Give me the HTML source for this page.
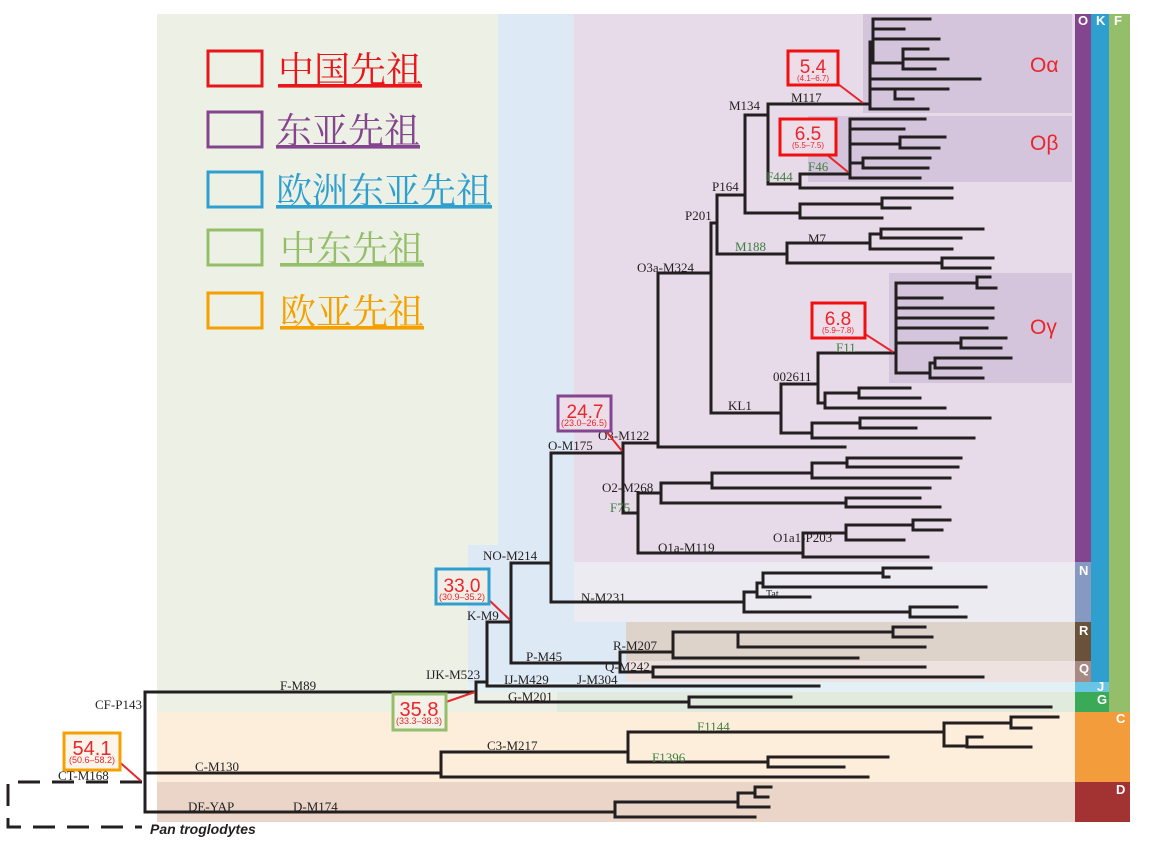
<!DOCTYPE html>
<html><head><meta charset="utf-8"><style>
html,body{margin:0;padding:0;background:#fff;}
svg{display:block}
.l{font-family:"Liberation Serif",serif;font-size:13px;fill:#231f20}
.g{font-family:"Liberation Serif",serif;font-size:13px;fill:#3f7f3f}
.n{font-family:"Liberation Sans",sans-serif;fill:#e8262b;text-anchor:middle}
.b{font-family:"Liberation Sans",sans-serif;font-size:13px;fill:#fff;font-weight:bold}
.lg{font-family:"Liberation Serif","Noto Serif CJK SC",serif;font-size:36px;text-decoration:underline}
</style></head><body>
<svg width="1157" height="844" viewBox="0 0 1157 844" xmlns="http://www.w3.org/2000/svg">
<!-- backgrounds -->
<rect x="157" y="14" width="918" height="698" fill="#edf1e5"/>
<rect x="498" y="14" width="577" height="531" fill="#dde9f4"/>
<rect x="468" y="545" width="607" height="137" fill="#dde9f4"/>
<rect x="574" y="14" width="501" height="548" fill="#e7dbe9"/>
<rect x="863" y="14" width="209" height="99" fill="#d5c5dc"/>
<rect x="808" y="116" width="264" height="66" fill="#d5c5dc"/>
<rect x="889" y="273" width="183" height="110" fill="#d5c5dc"/>
<rect x="574" y="562" width="501" height="60" fill="#ebebf1"/>
<rect x="626" y="622" width="449" height="39" fill="#ddd3ca"/>
<rect x="626" y="661" width="449" height="21" fill="#eee2e0"/>
<rect x="468" y="682" width="607" height="10" fill="#e3f1f7"/>
<rect x="557" y="692" width="518" height="20" fill="#e0ebde"/>
<rect x="157" y="712" width="918" height="70" fill="#fdeedb"/>
<rect x="157" y="782" width="918" height="40" fill="#ead5c8"/>
<!-- right bars -->
<rect x="1075" y="14" width="16" height="548" fill="#83468e"/>
<rect x="1075" y="562" width="16" height="60" fill="#8599c1"/>
<rect x="1075" y="622" width="16" height="39" fill="#6a5139"/>
<rect x="1075" y="661" width="16" height="21" fill="#a88a84"/>
<rect x="1091" y="14" width="18" height="668" fill="#2f9fd0"/>
<rect x="1075" y="682" width="34" height="10" fill="#6ac4e4"/>
<rect x="1075" y="692" width="34" height="20" fill="#3aaa58"/>
<rect x="1109" y="14" width="21" height="698" fill="#95be6b"/>
<rect x="1075" y="712" width="55" height="70" fill="#f39c3c"/>
<rect x="1075" y="782" width="55" height="40" fill="#a33232"/>
<text class="b" x="1078" y="25">O</text><text class="b" x="1096" y="25">K</text><text class="b" x="1114" y="25">F</text>
<text class="b" x="1079" y="575">N</text><text class="b" x="1079" y="635">R</text><text class="b" x="1079" y="673">Q</text>
<text class="b" x="1097" y="691">J</text><text class="b" x="1097" y="704">G</text>
<text class="b" x="1116" y="723">C</text><text class="b" x="1116" y="794">D</text>
<!-- legend -->
<g fill="none" stroke-width="3">
<rect x="208" y="51" width="54" height="35" stroke="#e8161b"/>
<rect x="208" y="112" width="54" height="35" stroke="#83468e"/>
<rect x="208" y="172" width="54" height="35" stroke="#2f9fd0"/>
<rect x="208" y="230" width="54" height="35" stroke="#95be6b"/>
<rect x="208" y="293" width="54" height="35" stroke="#f5a000"/>
</g>
<text class="lg" x="278" y="82" fill="#e8161b">中国先祖</text>
<text class="lg" x="276" y="143" fill="#83468e">东亚先祖</text>
<text class="lg" x="276" y="203" fill="#2f9fd0">欧洲东亚先祖</text>
<text class="lg" x="280" y="261" fill="#95be6b">中东先祖</text>
<text class="lg" x="280" y="324" fill="#f5a000">欧亚先祖</text>
<!-- tree -->
<path fill="none" stroke="#231f20" stroke-width="3" stroke-linecap="square" d="
M873 19V63 M873 19H930 M873 29H904 M873 39H939 M873 63H903 M903 49V69 M903 49H928 M903 59H948 M903 69H935
M870 42V109 M870 79H980 M870 89H895 M895 89V99 M895 89H948 M895 99H913 M870 109H928
M768 104H870 M768 104V184
M768 184H800 M800 174V188 M800 174H848 M800 188H952
M850 119V178 M850 119H925 M850 129H904 M850 144H900 M900 137V148 M900 137H945 M900 148H939
M850 163H863 M863 158V168 M863 158H930 M863 168H928 M850 178H920
M745 115V213 M745 115H768 M745 213H800 M800 204V218 M800 204H882 M882 198V208 M882 198H952 M882 208H910 M800 218H882
M717 195H745 M717 195V254 M711 223H717 M717 254H787
M787 243V263 M787 243H870 M870 234V249 M870 234H881 M881 229V238 M881 229H983 M881 238H961 M870 249H952
M787 263H942 M942 258V268 M942 258H993 M942 268H990
M658 273H711 M711 223V413 M658 273V447
M711 413H781 M781 384V433 M781 384H818 M818 353V403 M818 353H896
M896 283V373 M896 283H977 M977 277V288 M977 277H990 M977 288H996 M896 298H942 M896 308H993 M896 318H993 M896 328H987
M896 343H961 M961 338V348 M961 338H1006 M961 348H1001
M896 373H930 M930 363V378 M930 363H935 M935 358V368 M935 358H1011 M935 368H981 M930 378H983
M818 403H825 M825 393V408 M825 393H859 M859 388V398 M859 388H910 M859 398H920 M825 408H945
M781 433H812 M812 423V438 M812 423H860 M860 418V428 M860 418H990 M860 428H916 M812 438H974
M623 443H658 M658 447H845
M551 453H623 M623 443V513 M623 513H638 M638 493V553
M638 493H661 M661 483V503 M661 483H712 M712 473V488 M712 473H812 M812 463V478 M812 463H847 M847 458V467 M847 458H961 M847 467H958 M812 478H950 M712 488H930
M661 503H846 M846 498V507 M846 498H920 M846 507H940
M638 553H803 M803 533V557 M803 533H846 M846 525V540 M846 525H913 M913 520V530 M913 520H950 M913 530H942 M846 540H904 M803 557H928
M551 453V602 M511 563H551 M511 563V663
M551 602H744 M744 592V612 M744 592H757 M757 583V597 M757 583H763 M763 573V587 M763 573H883 M883 568V577 M883 568H931 M883 577H889 M763 587H986 M757 597H810
M744 612H910 M910 607V617 M910 607H957 M910 617H966
M487 622H511 M487 622V686
M511 663H620 M620 652V672 M620 652H673 M673 632V658 M673 632H738 M738 632V647 M738 632H893 M893 627V637 M893 627H925 M893 637H932 M738 647H925 M673 658H858
M620 672H653 M653 667V677 M653 667H925 M653 677H983
M487 686H819 M476 682H487 M476 682V702 M476 702H689 M689 697V707 M689 697H791 M689 707H1051
M147 692H476 M145 692V812
M145 773H441 M441 752V777 M441 752H628 M441 777H868
M628 732V762 M628 732H944 M944 723V746 M944 723H1011 M1011 717V728 M1011 717H1058 M1011 728H1031 M944 746H967 M967 737V747 M967 737H982 M967 747H1031
M628 762H768 M768 757V767 M768 757H888 M768 767H844
M145 812H615 M615 802V817 M615 802H738 M738 793V807 M738 793H755 M755 787V797 M755 787H771 M755 797H768 M738 807H769 M615 817H755
"/>
<path fill="none" stroke="#231f20" stroke-width="3" stroke-dasharray="22,12" d="M142 782H8V827H142"/>
<text x="150" y="834" style="font-family:'Liberation Sans',sans-serif;font-size:14px;font-weight:bold;font-style:italic" fill="#231f20">Pan troglodytes</text>
<!-- labels -->
<text class="l" x="729" y="110">M134</text><text class="l" x="791" y="102">M117</text>
<text class="g" x="766" y="181">F444</text><text class="g" x="808" y="171">F46</text>
<text class="l" x="712" y="191">P164</text><text class="l" x="685" y="220">P201</text>
<text class="g" x="735" y="251">M188</text><text class="l" x="808" y="243">M7</text>
<text class="l" x="637" y="272">O3a-M324</text><text class="l" x="773" y="381">002611</text>
<text class="l" x="728" y="410">KL1</text><text class="g" x="836" y="352">F11</text>
<text class="l" x="598" y="440">O3-M122</text><text class="l" x="548" y="450">O-M175</text>
<text class="l" x="602" y="492">O2-M268</text><text class="g" x="610" y="512">F75</text>
<text class="l" x="658" y="552">O1a-M119</text><text class="l" x="773" y="542">O1a1-P203</text>
<text class="l" x="483" y="560">NO-M214</text><text class="l" x="581" y="602">N-M231</text>
<text class="l" x="766" y="597" style="font-size:10px">Tat</text>
<text class="l" x="467" y="620">K-M9</text><text class="l" x="613" y="650">R-M207</text>
<text class="l" x="526" y="661">P-M45</text><text class="l" x="605" y="671">Q-M242</text>
<text class="l" x="426" y="679">IJK-M523</text><text class="l" x="504" y="684">IJ-M429</text>
<text class="l" x="577" y="684">J-M304</text><text class="l" x="508" y="701">G-M201</text>
<text class="l" x="280" y="690">F-M89</text><text class="l" x="95" y="709">CF-P143</text>
<text class="l" x="195" y="771">C-M130</text><text class="l" x="487" y="750">C3-M217</text>
<text class="g" x="697" y="731">F1144</text><text class="g" x="652" y="762">F1396</text>
<text class="l" x="58" y="780">CT-M168</text><text class="l" x="188" y="811">DE-YAP</text>
<text class="l" x="293" y="811">D-M174</text>
<text x="1030" y="72" style="font-family:'Liberation Sans',sans-serif;font-size:21px" fill="#e8262b">Oα</text>
<text x="1030" y="150" style="font-family:'Liberation Sans',sans-serif;font-size:21px" fill="#e8262b">Oβ</text>
<text x="1030" y="334" style="font-family:'Liberation Sans',sans-serif;font-size:21px" fill="#e8262b">Oγ</text>
<!-- date boxes -->
<g stroke-width="2" stroke="#e8262b">
<line x1="838" y1="84" x2="863" y2="103"/><line x1="826" y1="154" x2="848" y2="172"/>
<line x1="865" y1="334" x2="893" y2="352"/><line x1="605" y1="430" x2="622" y2="451"/>
<line x1="489" y1="600" x2="510" y2="620"/><line x1="446" y1="702" x2="475" y2="692"/>
<line x1="116" y1="759" x2="141" y2="781"/>
</g>
<g stroke-width="3">
<rect x="788" y="51" width="50" height="34" fill="#ecdde9" stroke="#f01010"/>
<rect x="780" y="119" width="56" height="36" fill="#ecdde9" stroke="#f01010"/>
<rect x="812" y="303" width="53" height="35" fill="#ecdde9" stroke="#f01010"/>
<rect x="558" y="396" width="53" height="35" fill="#ecdde9" stroke="#83468e"/>
<rect x="436" y="569" width="53" height="35" fill="#f1eee8" stroke="#2f9fd0"/>
<rect x="393" y="694" width="53" height="36" fill="#f3f1e8" stroke="#95be6b"/>
<rect x="64" y="733" width="56" height="37" fill="#fbf4ea" stroke="#f5a000"/>
</g>
<text class="n" x="813" y="73" font-size="19">5.4</text><text class="n" x="813" y="81" font-size="8">(4.1–6.7)</text>
<text class="n" x="808" y="140" font-size="19">6.5</text><text class="n" x="808" y="148" font-size="8">(5.5–7.5)</text>
<text class="n" x="838" y="325" font-size="19">6.8</text><text class="n" x="838" y="333" font-size="8">(5.9–7.8)</text>
<text class="n" x="585" y="418" font-size="19">24.7</text><text class="n" x="584" y="426" font-size="9">(23.0–26.5)</text>
<text class="n" x="462" y="592" font-size="19">33.0</text><text class="n" x="462" y="600" font-size="9">(30.9–35.2)</text>
<text class="n" x="419" y="716" font-size="20">35.8</text><text class="n" x="419" y="724" font-size="9">(33.3–38.3)</text>
<text class="n" x="92" y="755" font-size="20">54.1</text><text class="n" x="92" y="763" font-size="9">(50.6–58.2)</text>
</svg>
</body></html>
